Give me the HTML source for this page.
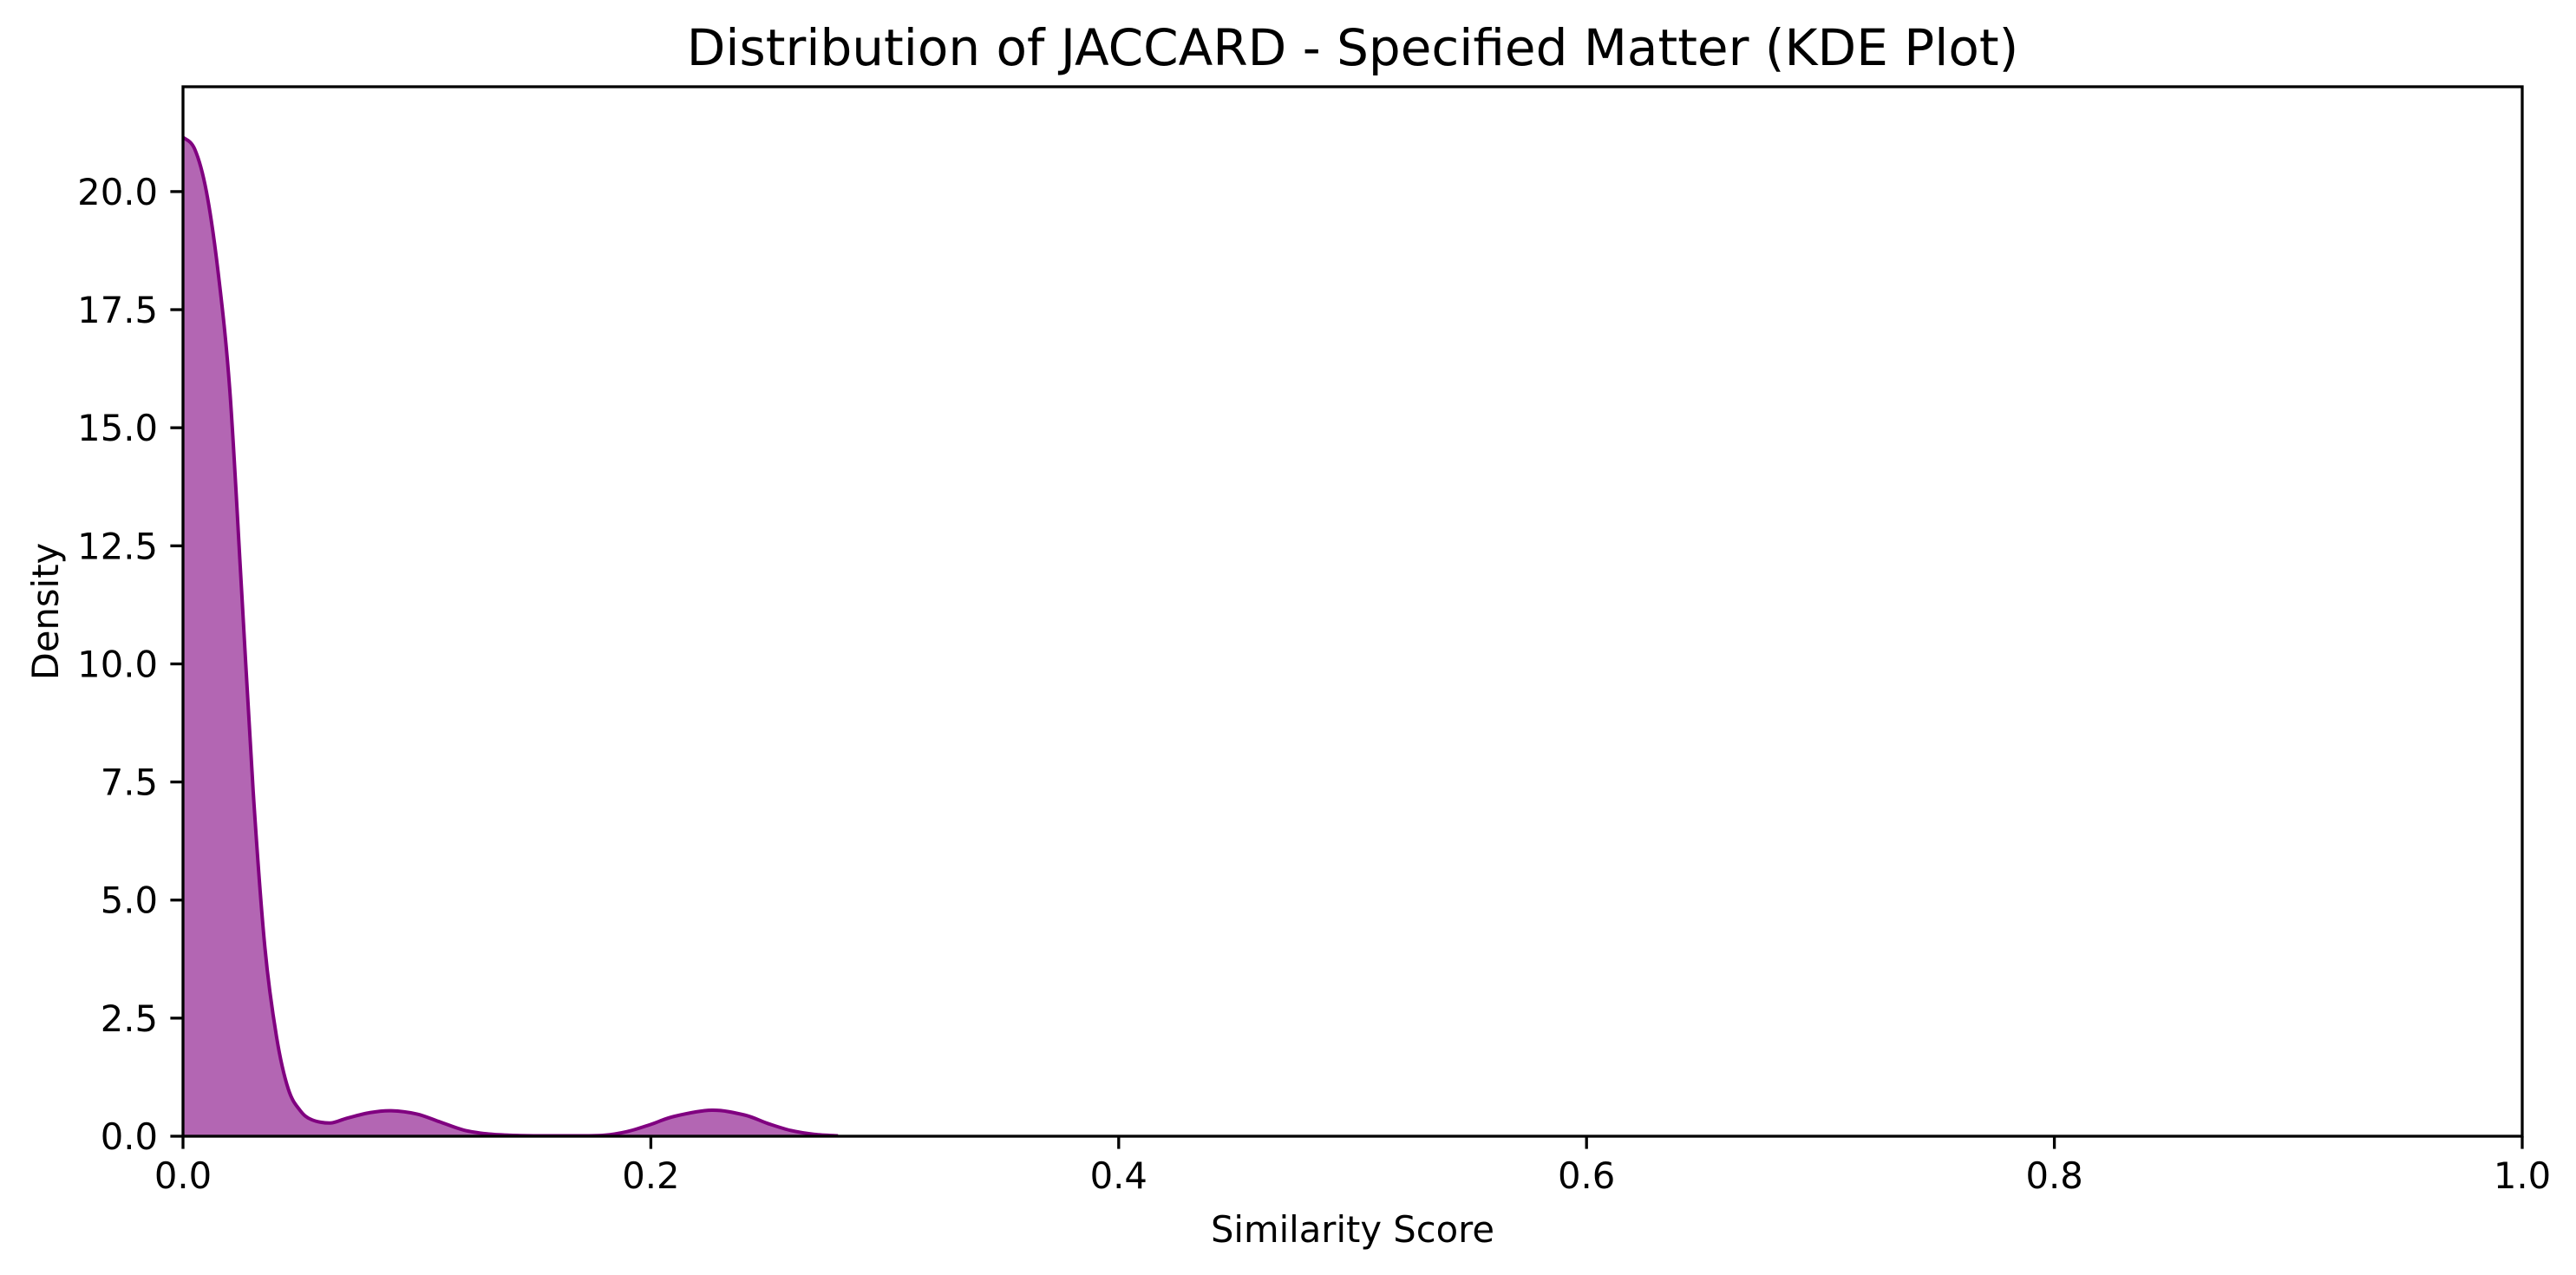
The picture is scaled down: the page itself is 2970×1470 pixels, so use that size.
<!DOCTYPE html>
<html><head><meta charset="utf-8"><style>
html,body{margin:0;padding:0;background:#fff;}
svg{display:block;font-family:"DejaVu Sans","Liberation Sans",sans-serif;}
</style></head><body>
<svg id="chart" width="2970" height="1470" viewBox="0 0 2970 1470" xmlns="http://www.w3.org/2000/svg">
<rect width="2970" height="1470" fill="#fff"/>
<text x="1559.5" y="75" font-size="58" text-anchor="middle" fill="#000">Distribution of JACCARD - Specified Matter (KDE Plot)</text>
<g id="plot"></g>
<text x="1559.5" y="1432" font-size="41.7" text-anchor="middle">Similarity Score</text>
<text transform="translate(67,705) rotate(-90)" font-size="41.7" text-anchor="middle">Density</text>
</svg>
<script>
const xs = [0,0.005,0.01,0.015,0.02,0.025,0.03,0.035,0.04,0.045,0.05,0.055,0.063,0.07,0.08,0.089,0.1,0.11,0.12,0.13,0.14,0.15,0.16,0.17,0.18,0.19,0.2,0.21,0.226,0.24,0.25,0.26,0.27,0.28];
const density = [21.15,20.9,20.0,18.3,15.8,11.6,7.3,4.0,2.1,1.0,0.55,0.35,0.28,0.38,0.5,0.54,0.47,0.3,0.13,0.05,0.02,0.01,0.01,0.01,0.02,0.1,0.25,0.42,0.55,0.45,0.27,0.12,0.04,0.01];
const xTicks = [0,0.2,0.4,0.6,0.8,1.0];
const xTickLabels = ["0.0","0.2","0.4","0.6","0.8","1.0"];
const yTicks = [0,2.5,5,7.5,10,12.5,15,17.5,20];
const yTickLabels = ["0.0","2.5","5.0","7.5","10.0","12.5","15.0","17.5","20.0"];

const L=211,R=2908,T=100,B=1310,yMax=22.22;
const X=v=>L+(v-0)/(1-0)*(R-L);
const Y=v=>B-v/yMax*(B-T);
const NS="http://www.w3.org/2000/svg";
const g=document.getElementById('plot');
function mk(tag,attrs){const e=document.createElementNS(NS,tag);for(const k in attrs)e.setAttribute(k,attrs[k]);g.appendChild(e);return e;}

const pts=xs.map((x,i)=>[X(x),Y(density[i])]);
let d=`M${pts[0][0]},${pts[0][1]}`;
for(let i=0;i<pts.length-1;i++){
  const p0=pts[Math.max(0,i-1)],p1=pts[i],p2=pts[i+1],p3=pts[Math.min(pts.length-1,i+2)];
  const c1x=p1[0]+(p2[0]-p0[0])/6,c1y=p1[1]+(p2[1]-p0[1])/6;
  const c2x=p2[0]-(p3[0]-p1[0])/6,c2y=p2[1]-(p3[1]-p1[1])/6;
  d+=` C${c1x},${Math.min(c1y,B)} ${c2x},${Math.min(c2y,B)} ${p2[0]},${p2[1]}`;
}
const area=mk('path',{d:d+` L${pts[pts.length-1][0]},${B} L${pts[0][0]},${B} Z`,fill:'#800080','fill-opacity':'0.6',stroke:'none'});


const line=mk('path',{d:d,fill:'none',stroke:'#800080','stroke-width':'4'});



const frame=mk('rect',{x:L,y:T,width:R-L,height:B-T,fill:'none',stroke:'#000','stroke-width':'3.3'});



xTicks.forEach((v,i)=>{
  const t=mk('line',{x1:X(v),x2:X(v),y1:B,y2:B+14.6,stroke:'#000','stroke-width':'3.3'});
  
  
  const l=mk('text',{x:X(v),y:B+60,'font-size':'41.7','text-anchor':'middle'});
  l.textContent=xTickLabels[i];
  
  
});
yTicks.forEach((v,i)=>{
  const t=mk('line',{x1:L-14.6,x2:L,y1:Y(v),y2:Y(v),stroke:'#000','stroke-width':'3.3'});
  
  
  const l=mk('text',{x:L-29,y:Y(v)+15,'font-size':'41.7','text-anchor':'end'});
  l.textContent=yTickLabels[i];
  
  
});
</script>
</body></html>
